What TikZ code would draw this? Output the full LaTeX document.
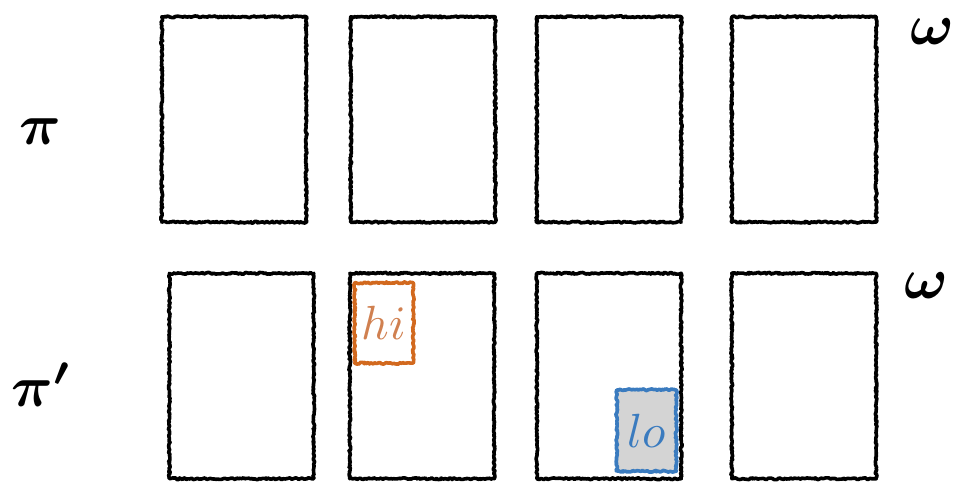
\documentclass[tikz,border=0pt]{standalone}
\usetikzlibrary{decorations.pathmorphing}
\definecolor{hiorange}{HTML}{D2691E}
\definecolor{hitext}{HTML}{D08050}
\definecolor{loblue}{HTML}{3A7BBF}
\definecolor{logray}{HTML}{D4D4D4}
\begin{document}
\begin{tikzpicture}[x=1pt,y=-1pt,
  sketch/.style={line join=round,line cap=round,decorate,decoration={random steps,segment length=1.5pt,amplitude=0.9pt}},
  card/.style={inner sep=0pt,minimum width=144pt,minimum height=205pt},
  hibox/.style={inner sep=0pt,minimum width=58pt,minimum height=80pt},
  lobox/.style={fill=logray,inner sep=0pt,minimum width=59pt,minimum height=81pt},
  boxtxt/.style={inner sep=0pt,scale=4.8},
  lbl/.style={inner sep=0pt,scale=5.8,font=\boldmath}]
\useasboundingbox (0,0) rectangle (957,482);
% top row
\node[card] (t1) at (234,119.5) {};
\node[card] (t2) at (423,119.5) {};
\node[card] (t3) at (609,119.5) {};
\node[card] (t4) at (804,119.5) {};
% bottom row
\node[card] (b1) at (241.5,376) {};
\node[card] (b2) at (422,376) {};
\node[card] (b3) at (609,376) {};
\node[card] (b4) at (804,376) {};
\foreach \n in {t1,t2,t3,t4,b1,b2,b3,b4}
  \draw[sketch,line width=3.6pt,black] (\n.south west) rectangle (\n.north east);
% highlighted boxes
\node[hibox] (hi) at (384,323) {};
\draw[sketch,line width=3.6pt,hiorange] (hi.south west) rectangle (hi.north east);
\node[boxtxt,text=hitext] (hitxt) at (hi.center) {$hi$};
\node[lobox] (lo) at (646.5,430.5) {};
\draw[sketch,line width=3.6pt,loblue] (lo.south west) rectangle (lo.north east);
\node[boxtxt,text=loblue] (lotxt) at (lo.center) {$lo$};
% labels
\node[lbl] (pi) at (40,132) {$\pi$};
\node[lbl] (pip) at (42,385) {$\pi'$};
\node[lbl] (w1) at (932,32) {$\omega$};
\node[lbl] (w2) at (926,286) {$\omega$};
\end{tikzpicture}
\end{document}
